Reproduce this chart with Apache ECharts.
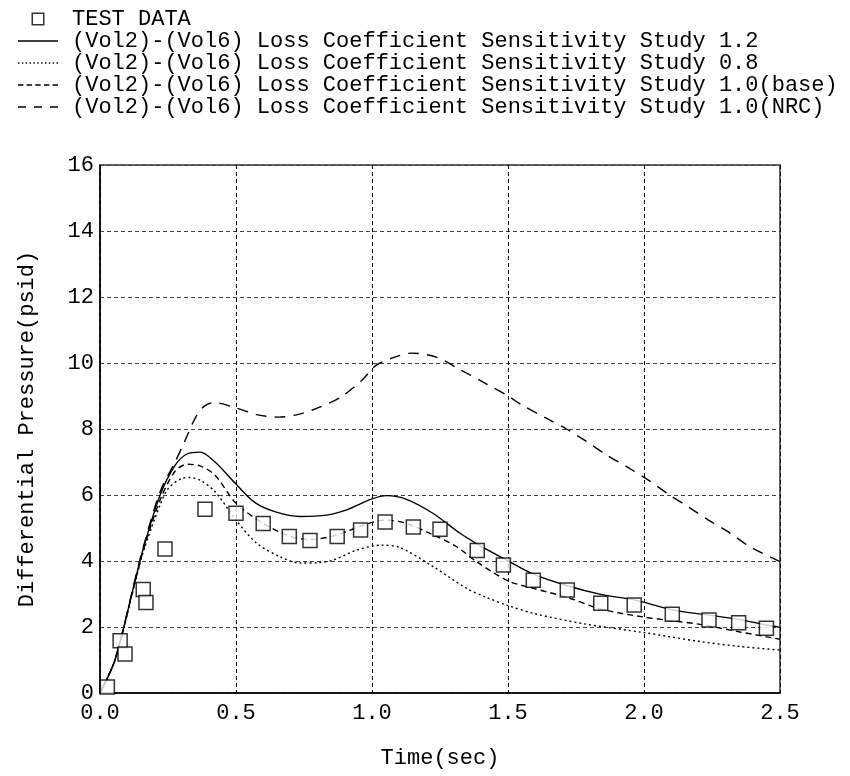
<!DOCTYPE html>
<html>
<head>
<meta charset="utf-8">
<script src="https://cdn.jsdelivr.net/npm/echarts@6/dist/echarts.min.js"></script>
<style>html,body{margin:0;padding:0;background:#fff}#c{width:850px;height:776px}</style>
</head>
<body>
<div id="c"></div>
<script>
const testT = [0.027,0.074,0.092,0.159,0.169,0.239,0.386,0.5,0.6,0.696,0.772,0.872,0.958,1.048,1.152,1.25,1.387,1.483,1.593,1.718,1.841,1.964,2.104,2.239,2.348,2.45];
const testV = [0.18,1.58,1.18,3.14,2.74,4.36,5.57,5.45,5.14,4.74,4.62,4.74,4.94,5.18,5.03,4.96,4.32,3.88,3.42,3.12,2.72,2.67,2.39,2.21,2.13,1.96];

const k12 = [[0,0],[0.055,1.0],[0.129,3.4],[0.16,4.4],[0.221,6.0],[0.276,6.9],[0.321,7.25],[0.368,7.3],[0.423,7.0],[0.5,6.33],[0.57,5.77],[0.645,5.49],[0.735,5.35],[0.833,5.39],[0.907,5.55],[1.0,5.88],[1.054,5.98],[1.127,5.87],[1.225,5.44],[1.324,4.84],[1.40,4.45],[1.483,4.08],[1.593,3.6],[1.718,3.25],[1.841,2.99],[1.964,2.82],[2.104,2.52],[2.239,2.36],[2.348,2.23],[2.45,2.06],[2.5,1.99]];
const k08 = [[0,0],[0.055,1.0],[0.129,3.35],[0.16,4.3],[0.221,5.7],[0.251,6.2],[0.3,6.5],[0.33,6.53],[0.368,6.45],[0.423,6.1],[0.5,5.24],[0.576,4.54],[0.662,4.13],[0.735,3.94],[0.8,3.95],[0.858,4.03],[0.944,4.33],[1.035,4.48],[1.103,4.41],[1.225,3.83],[1.348,3.17],[1.42,2.9],[1.5,2.65],[1.6,2.4],[1.777,2.1],[2.0,1.83],[2.206,1.56],[2.353,1.41],[2.5,1.3]];
const k10base = [[0,0],[0.055,1.0],[0.129,3.38],[0.16,4.35],[0.221,5.85],[0.276,6.72],[0.321,6.93],[0.368,6.88],[0.423,6.6],[0.5,5.75],[0.6,5.14],[0.7,4.74],[0.772,4.65],[0.872,4.79],[0.968,5.09],[1.048,5.24],[1.127,5.14],[1.225,4.79],[1.31,4.44],[1.384,3.98],[1.5,3.4],[1.593,3.17],[1.718,2.9],[1.838,2.55],[2.0,2.3],[2.104,2.19],[2.206,2.08],[2.353,1.85],[2.5,1.63]];
const k10nrc = [[0,0],[0.055,1.0],[0.129,3.45],[0.16,4.45],[0.221,6.1],[0.276,7.0],[0.31,7.6],[0.352,8.36],[0.385,8.7],[0.42,8.8],[0.5,8.64],[0.58,8.43],[0.657,8.36],[0.733,8.45],[0.81,8.67],[0.886,8.97],[0.962,9.47],[1.015,9.93],[1.084,10.18],[1.145,10.3],[1.236,10.18],[1.328,9.78],[1.42,9.37],[1.5,9.0],[1.55,8.73],[1.642,8.32],[1.715,8.0],[1.789,7.62],[1.863,7.21],[1.936,6.86],[2.016,6.45],[2.096,5.99],[2.163,5.64],[2.237,5.24],[2.31,4.88],[2.39,4.43],[2.5,3.98]];

const names = ['TEST DATA',
 '(Vol2)-(Vol6) Loss Coefficient Sensitivity Study 1.2',
 '(Vol2)-(Vol6) Loss Coefficient Sensitivity Study 0.8',
 '(Vol2)-(Vol6) Loss Coefficient Sensitivity Study 1.0(base)',
 '(Vol2)-(Vol6) Loss Coefficient Sensitivity Study 1.0(NRC)'];
const xTicks = [0, 0.5, 1.0, 1.5, 2.0, 2.5];
const yTicks = [0, 2, 4, 6, 8, 10, 12, 14, 16];

const FONT = 'Liberation Mono';

// legend icon paths (styling only)
function dashPath(dash, gap, total, h) {
  let p = '';
  for (let x = 0; x < total; x += dash + gap) {
    const w = Math.min(dash, total - x);
    p += 'M' + x + ',0h' + w + 'v' + h + 'h' + (-w) + 'z';
  }
  return 'path://' + p;
}
const iconSquare = 'path://M0,0H12V12H0Z M1.4,1.4V10.6H10.6V1.4Z';
const iconSolid = 'path://M0,0H40V1.4H0Z';
const iconDot = dashPath(1.4, 2.4, 40, 1.4);
const iconBase = dashPath(5, 3, 40, 1.4);
const iconNrc = dashPath(7, 7, 40, 1.4);

const chart = echarts.init(document.getElementById('c'), null, {renderer: 'canvas'});
function lineSeries(name, data, type) {
  return {name, type: 'line', data, symbol: 'none', smooth: 0.3, z: 3,
    lineStyle: {color: '#000', width: 1.4, type}, itemStyle: {color: '#000'}};
}
chart.setOption({
  animation: false,
  backgroundColor: '#fff',
  textStyle: {fontFamily: FONT},
  legend: {
    orient: 'vertical', left: 13, top: 3, itemWidth: 40, itemHeight: 13, itemGap: 0,
    symbolKeepAspect: true,
    data: [
      {name: names[0], icon: iconSquare},
      {name: names[1], icon: iconSolid},
      {name: names[2], icon: iconDot},
      {name: names[3], icon: iconBase},
      {name: names[4], icon: iconNrc}
    ],
    itemStyle: {color: '#000', borderWidth: 0},
    textStyle: {fontFamily: FONT, fontSize: 22, color: '#000', lineHeight: 22, padding: [0, 0, 0, 9]},
    inactiveColor: '#000'
  },
  grid: {left: 100, right: 70, top: 165, bottom: 83, show: true, borderColor: '#333', borderWidth: 1.5},
  xAxis: {
    type: 'value', min: xTicks[0], max: xTicks[xTicks.length - 1], interval: 0.5,
    name: 'Time(sec)', nameLocation: 'middle', nameGap: 54,
    nameTextStyle: {fontFamily: FONT, fontSize: 22, color: '#000'},
    axisLine: {show: true, lineStyle: {color: '#000', width: 1.5}},
    axisTick: {show: false},
    axisLabel: {fontFamily: FONT, fontSize: 22, color: '#000', margin: 9, formatter: v => v.toFixed(1)},
    splitLine: {show: true, lineStyle: {color: '#000', type: [4, 3], width: 1}}
  },
  yAxis: {
    type: 'value', min: yTicks[0], max: yTicks[yTicks.length - 1], interval: 2,
    name: 'Differential Pressure(psid)', nameLocation: 'middle', nameGap: 62,
    nameTextStyle: {fontFamily: FONT, fontSize: 22, color: '#000'},
    axisLine: {show: true, lineStyle: {color: '#000', width: 1.5}},
    axisTick: {show: false},
    axisLabel: {fontFamily: FONT, fontSize: 22, color: '#000', margin: 6},
    splitLine: {show: true, lineStyle: {color: '#444', type: [4, 3], width: 1}}
  },
  series: [
    {name: names[0], type: 'scatter', data: testT.map((t, i) => [t, testV[i]]),
     symbol: 'rect', symbolSize: 14, symbolKeepAspect: true, z: 4,
     itemStyle: {color: '#fff', borderColor: '#000', borderWidth: 1.5}},
    lineSeries(names[1], k12, 'solid'),
    lineSeries(names[2], k08, [2, 3]),
    lineSeries(names[3], k10base, [6, 4]),
    lineSeries(names[4], k10nrc, [11, 8])
  ]
});
</script>
</body>
</html>
